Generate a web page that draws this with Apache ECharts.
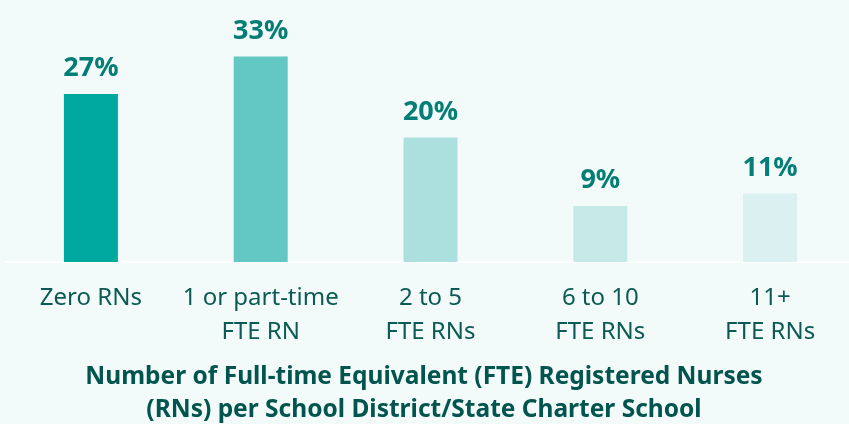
<!DOCTYPE html>
<html>
<head>
<meta charset="utf-8">
<script src="https://cdn.jsdelivr.net/npm/echarts@6/dist/echarts.min.js"></script>
<style>
  html, body { margin: 0; padding: 0; background: #f3fbfa; overflow: hidden; }
  /* a little wider than the window so the last category slot runs off the edge as in the source */
  #chart { width: 855px; height: 424px; }
</style>
</head>
<body>
<div id="chart"></div>
<script>
  // categories and values
  const categories = ['Zero RNs', '1 or part-time\nFTE RN', '2 to 5\nFTE RNs', '6 to 10\nFTE RNs', '11+\nFTE RNs']
  const shares = [27, 33, 20, 9, 11]
  const barColors = ['#00a99f', '#63c8c4', '#abe0df', '#c4e9e7', '#dbf0f1']

  const chart = echarts.init(document.getElementById('chart'))
  chart.setOption({
    backgroundColor: '#f3fbfa',
    animation: false,
    title: {
      text: 'Number of Full-time Equivalent (FTE) Registered Nurses\n(RNs) per School District/State Charter School',
      left: 419,
      top: 356,
      textAlign: 'center',
      textStyle: {
        fontFamily: 'Noto Sans',
        fontWeight: 'bold',
        fontSize: 24.5,
        lineHeight: 33,
        color: '#02544e'
      }
    },
    grid: { left: 6, right: 0, top: 13, bottom: 162 },
    xAxis: {
      type: 'category',
      data: categories,
      axisLine: { lineStyle: { color: '#ffffff', width: 2 } },
      axisTick: { show: false },
      axisLabel: {
        interval: 0,
        fontFamily: 'Noto Sans',
        fontSize: 24,
        lineHeight: 34,
        margin: 19,
        color: '#0b5a54'
      }
    },
    yAxis: {
      type: 'value',
      min: 0,
      max: 40,
      show: false,
      splitLine: { show: false }
    },
    series: [
      {
        type: 'bar',
        barWidth: 54,
        data: shares.map((v, i) => ({ value: v, itemStyle: { color: barColors[i] } })),
        label: {
          show: true,
          position: 'top',
          distance: 12,
          formatter: '{c}%',
          fontFamily: 'Noto Sans',
          fontWeight: 'bold',
          fontSize: 27,
          color: '#037d75'
        }
      }
    ]
  })
</script>
</body>
</html>
